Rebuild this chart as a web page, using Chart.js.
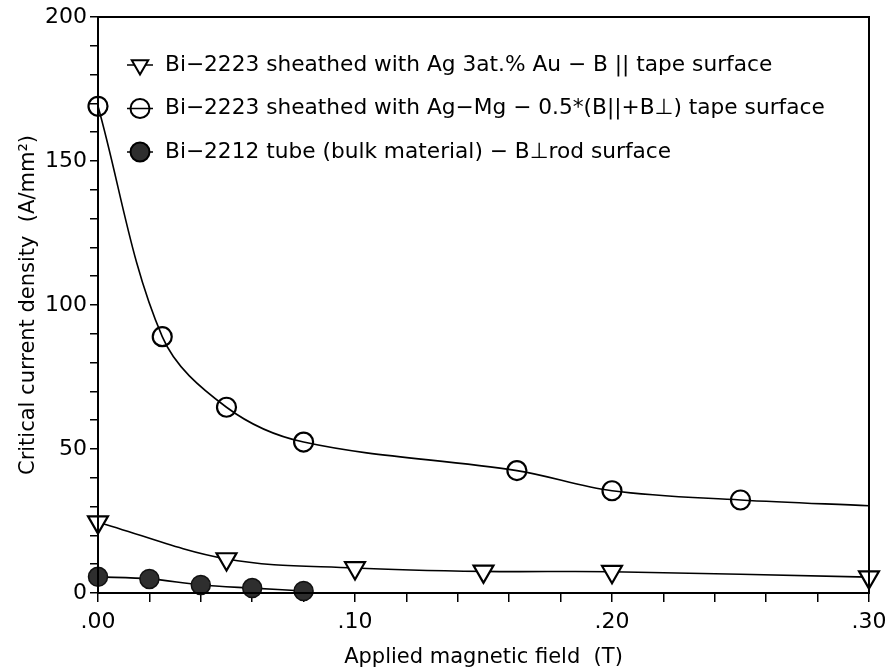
<!DOCTYPE html>
<html>
<head>
<meta charset="utf-8">
<script src="https://cdn.jsdelivr.net/npm/chart.js@4.4.0/dist/chart.umd.min.js"></script>
<style>
  body { margin: 0; background: #fff; }
</style>
</head>
<body>
<canvas id="chart" width="890" height="672"></canvas>
<script>
// values
const agAuField = [0, 0.05, 0.10, 0.15, 0.20, 0.30];
const agAuJc = [24.6, 11.8, 8.7, 7.5, 7.4, 5.5];

const agMgField = [0, 0.025, 0.05, 0.08, 0.163, 0.20, 0.25, 0.30];
const agMgJc = [169, 89, 64.5, 52.4, 42.5, 35.5, 32.3, 30.3];
const agMgMarked = [true, true, true, true, true, true, true, false]; // last one is just the end of the fit line

const tubeField = [0, 0.02, 0.04, 0.06, 0.08];
const tubeJc = [5.6, 4.9, 2.8, 1.7, 0.7];

const seriesNames = [
    'Bi\u22122223 sheathed with Ag 3at.% Au \u2212 B || tape surface',
    'Bi\u22122223 sheathed with Ag\u2212Mg \u2212 0.5*(B||+B\u22a5) tape surface',
    'Bi\u22122212 tube (bulk material) \u2212 B\u22a5rod surface'
];

const yLabelled = [0, 50, 100, 150, 200];
const xLabelled = [0, 0.10, 0.20, 0.30];

const FONT = '"DejaVu Sans", "Liberation Sans", sans-serif';

function toPoints(xs, ys) {
    return xs.map((x, i) => ({ x: x, y: ys[i] }));
}

// box round the plot + legend inside it
const framePlugin = {
    id: 'frame',
    afterDatasetsDraw(chart) {
        const { ctx, chartArea: a } = chart;
        ctx.save();
        ctx.strokeStyle = '#000';
        ctx.lineWidth = 2;
        ctx.strokeRect(a.left, a.top, a.right - a.left, a.bottom - a.top);

        // size the legend font so the long line is as wide as in the figure
        ctx.font = '20px ' + FONT;
        const w = ctx.measureText(chart.data.datasets[1].label).width;
        const size = Math.min(22, 20 * 660 / w);
        ctx.font = size.toFixed(1) + 'px ' + FONT;
        ctx.textBaseline = 'middle';
        chart.data.datasets.forEach((ds, i) => {
            const y = 65 + i * 43.5;
            const mx = 140;
            ctx.lineWidth = 1.5;
            ctx.strokeStyle = '#000';
            ctx.beginPath();
            ctx.moveTo(mx - 13, y);
            ctx.lineTo(mx + 13, y);
            ctx.stroke();
            ctx.fillStyle = ds.pointBackgroundColor;
            ctx.lineWidth = 2;
            Chart.helpers.drawPoint(ctx, {
                pointStyle: ds.pointStyle,
                rotation: ds.pointRotation || 0,
                radius: 9.5,
                borderWidth: 2
            }, mx, y);
            ctx.fillStyle = '#000';
            ctx.fillText(ds.label, 165, y);
        });
        ctx.restore();
    }
};

const ctx = document.getElementById('chart').getContext('2d');
new Chart(ctx, {
    type: 'scatter',
    data: {
        datasets: [
            {
                label: seriesNames[0],
                data: toPoints(agAuField, agAuJc),
                showLine: true,
                tension: 0.35,
                borderColor: '#000',
                borderWidth: 1.6,
                pointStyle: 'triangle',
                pointRotation: 180,
                pointRadius: 11.5,
                pointBorderWidth: 2.2,
                pointBorderColor: '#000',
                pointBackgroundColor: '#fff'
            },
            {
                label: seriesNames[1],
                data: toPoints(agMgField, agMgJc),
                showLine: true,
                tension: 0.35,
                borderColor: '#000',
                borderWidth: 1.6,
                pointStyle: 'circle',
                pointRadius: agMgMarked.map(m => m ? 9.5 : 0),
                pointBorderWidth: 2.2,
                pointBorderColor: '#000',
                pointBackgroundColor: 'rgba(255,255,255,0)'
            },
            {
                label: seriesNames[2],
                data: toPoints(tubeField, tubeJc),
                showLine: true,
                tension: 0.3,
                borderColor: '#000',
                borderWidth: 1.6,
                pointStyle: 'circle',
                pointRadius: 9.5,
                pointBorderWidth: 1.5,
                pointBorderColor: '#111',
                pointBackgroundColor: '#2e2e2e'
            }
        ]
    },
    options: {
        responsive: false,
        animation: false,
        clip: false,
        layout: { padding: { top: 17, right: 21, left: 0, bottom: 0 } },
        plugins: {
            legend: { display: false },
            tooltip: { enabled: false }
        },
        scales: {
            x: {
                type: 'linear',
                min: 0,
                max: 0.30,
                afterFit(scale) {
                    scale.height = 79;
                    scale.paddingLeft = 0;
                    scale.paddingRight = 0;
                },
                afterBuildTicks(scale) {
                    const t = [];
                    for (let i = 0; i <= 15; i++) t.push({ value: i * 0.02 });
                    scale.ticks = t;
                },
                border: { display: false },
                grid: {
                    drawOnChartArea: false,
                    drawTicks: true,
                    tickLength: 9,
                    color: '#000',
                    lineWidth: 1.5
                },
                ticks: {
                    color: '#000',
                    font: { family: FONT, size: 22 },
                    padding: 7,
                    maxRotation: 0,
                    autoSkip: false,
                    callback(v) {
                        const hit = xLabelled.find(l => Math.abs(l - v) < 1e-6);
                        if (hit === undefined) return '';
                        return hit.toFixed(2).replace(/^0/, '');
                    }
                },
                title: {
                    display: true,
                    text: 'Applied magnetic field  (T)',
                    color: '#000',
                    font: { family: FONT, size: 21 },
                    padding: { top: 0, bottom: 2 }
                }
            },
            y: {
                type: 'linear',
                min: 0,
                max: 200,
                afterFit(scale) {
                    scale.width = 98;
                    scale.paddingTop = 0;
                    scale.paddingBottom = 0;
                },
                afterBuildTicks(scale) {
                    const t = [];
                    for (let v = 0; v <= 200; v += 10) t.push({ value: v });
                    scale.ticks = t;
                },
                border: { display: false },
                grid: {
                    drawOnChartArea: false,
                    drawTicks: true,
                    tickLength: 8,
                    color: '#000',
                    lineWidth: 1.5
                },
                ticks: {
                    color: '#000',
                    font: { family: FONT, size: 22 },
                    padding: 3,
                    autoSkip: false,
                    callback(v) {
                        return yLabelled.includes(v) ? String(v) : '';
                    }
                },
                title: {
                    display: true,
                    text: 'Critical current density  (A/mm\u00b2)',
                    color: '#000',
                    font: { family: FONT, size: 21 },
                    padding: { top: 16, bottom: 0 }
                }
            }
        }
    },
    plugins: [framePlugin]
});
</script>
</body>
</html>
